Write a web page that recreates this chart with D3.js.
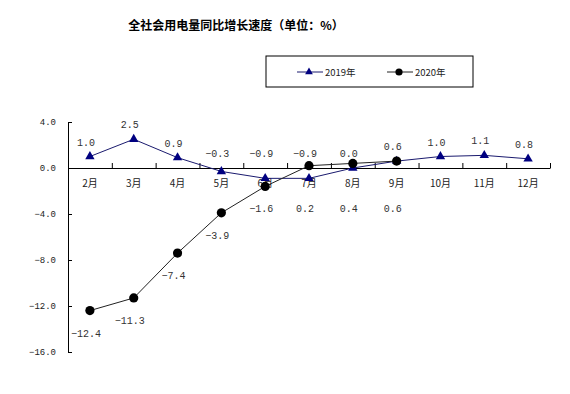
<!DOCTYPE html>
<html>
<head>
<meta charset="utf-8">
<script src="https://cdn.jsdelivr.net/npm/d3@7"></script>
<style>
  body { margin: 0; background: #fff; }
  .canvas svg { display: block; }
  text { fill: #222; }
</style>
</head>
<body>
<div class="canvas"></div>
<script>
// data
const months = ["2月", "3月", "4月", "5月", "6月", "7月", "8月", "9月", "10月", "11月", "12月"];
const v2019 = [1.0, 2.5, 0.9, -0.3, -0.9, -0.9, 0.0, 0.6, 1.0, 1.1, 0.8];
const v2020 = [-12.4, -11.3, -7.4, -3.9, -1.6, 0.2, 0.4, 0.6];
const yTicks = [4, 0, -4, -8, -12, -16];
const seriesNames = ["2019年", "2020年"];
const title = "全社会用电量同比增长速度（单位：%）";

const margin = { top: 122, right: 20, bottom: 42, left: 68 };
const graphWidth = 570 - margin.left - margin.right;
const graphHeight = 394 - margin.top - margin.bottom;

const svg = d3
  .select(".canvas")
  .append("svg")
  .attr("width", 570)
  .attr("height", 394);

// title
svg
  .append("text")
  .attr("x", 236)
  .attr("y", 30)
  .attr("text-anchor", "middle")
  .style("font-family", "'Noto Sans CJK SC', sans-serif")
  .style("font-weight", "bold")
  .style("font-size", "12px")
  .style("fill", "#000")
  .text(title);

const graph = svg
  .append("g")
  .attr("transform", `translate(${margin.left}, ${margin.top})`);

// scales
const x = d3.scaleBand().domain(months).range([0, graphWidth]);
const xEdge = d3.scaleLinear().domain([0, months.length]).range([0, graphWidth]);
const y = d3.scaleLinear().domain([-16, 4]).range([graphHeight, 0]);
const cx = (i) => x(months[i]) + x.bandwidth() / 2;

// y axis
const yAxisGroup = graph.append("g").attr("class", "y-axis");
yAxisGroup.call(
  d3.axisLeft(y)
    .tickValues(yTicks)
    .tickFormat(d3.format(".1f"))
    .tickSizeInner(-4)
    .tickSizeOuter(0)
    .tickPadding(12)
);
yAxisGroup.select(".domain").attr("stroke", "#000");
yAxisGroup.selectAll(".tick line").attr("stroke", "#000");
yAxisGroup
  .selectAll("text")
  .style("font-family", "'Liberation Mono', monospace")
  .style("font-size", "9px")
  .attr("fill", "#333");

// x axis at zero, ticks on band edges
const xAxisGroup = graph
  .append("g")
  .attr("class", "x-axis")
  .attr("transform", `translate(0, ${y(0)})`);
xAxisGroup.call(
  d3.axisBottom(xEdge)
    .tickValues(d3.range(months.length + 1))
    .tickFormat("")
    .tickSizeInner(-5)
    .tickSizeOuter(0)
);
xAxisGroup.select(".domain").attr("stroke", "#000");
xAxisGroup.selectAll(".tick line").attr("stroke", "#000");

// month labels
graph
  .append("g")
  .selectAll("text")
  .data(months)
  .enter()
  .append("text")
  .attr("x", (d) => x(d) + x.bandwidth() / 2)
  .attr("y", y(0) + 19)
  .attr("text-anchor", "middle")
  .style("font-family", "'Noto Sans CJK SC', sans-serif")
  .style("font-size", "10px")
  .text((d) => d);

// line generator
const line = d3
  .line()
  .x((d, i) => cx(i))
  .y((d) => y(d));

graph
  .append("path")
  .datum(v2019)
  .attr("fill", "none")
  .attr("stroke", "#1a1a6e")
  .attr("stroke-width", 1)
  .attr("d", line);

graph
  .append("path")
  .datum(v2020)
  .attr("fill", "none")
  .attr("stroke", "#222")
  .attr("stroke-width", 1)
  .attr("d", line);

// markers
const tri = d3.symbol().type(d3.symbolTriangle).size(38);
graph
  .selectAll(".m2019")
  .data(v2019)
  .enter()
  .append("path")
  .attr("class", "m2019")
  .attr("d", tri)
  .attr("transform", (d, i) => `translate(${cx(i)}, ${y(d)})`)
  .attr("fill", "#000080");

graph
  .selectAll(".m2020")
  .data(v2020)
  .enter()
  .append("circle")
  .attr("class", "m2020")
  .attr("r", 4.6)
  .attr("cx", (d, i) => cx(i))
  .attr("cy", (d) => y(d))
  .attr("fill", "#000");

// data labels
const fmt = d3.format(".1f");
graph
  .selectAll(".l2019")
  .data(v2019)
  .enter()
  .append("text")
  .attr("class", "l2019")
  .attr("x", (d, i) => cx(i) - 4)
  .attr("y", (d) => Math.min(y(d), y(0)) - 11)
  .attr("text-anchor", "middle")
  .style("font-family", "'Liberation Mono', monospace")
  .style("font-size", "10px")
  .style("fill", "#333")
  .text((d) => fmt(d));

graph
  .selectAll(".l2020")
  .data(v2020)
  .enter()
  .append("text")
  .attr("class", "l2020")
  .attr("x", (d, i) => cx(i) - 4)
  .attr("y", (d) => Math.max(y(d) + 22, y(0) + 40) + 4)
  .attr("text-anchor", "middle")
  .style("font-family", "'Liberation Mono', monospace")
  .style("font-size", "10px")
  .style("fill", "#333")
  .text((d) => fmt(d));

// legend
const legend = svg.append("g").attr("transform", "translate(266, 56)");
legend
  .append("rect")
  .attr("width", 207)
  .attr("height", 31)
  .attr("fill", "#fff")
  .attr("stroke", "#000")
  .attr("stroke-width", 1);

const items = legend
  .selectAll(".item")
  .data(seriesNames)
  .enter()
  .append("g")
  .attr("class", "item")
  .attr("transform", (d, i) => `translate(${31 + i * 90}, 16)`);

items
  .append("line")
  .attr("x1", 0)
  .attr("x2", 26)
  .attr("stroke", (d, i) => (i === 0 ? "#1a1a6e" : "#222"))
  .attr("stroke-width", 1);

items
  .filter((d, i) => i === 0)
  .append("path")
  .attr("d", d3.symbol().type(d3.symbolTriangle).size(26))
  .attr("transform", "translate(12, 0)")
  .attr("fill", "#000080");

items
  .filter((d, i) => i === 1)
  .append("circle")
  .attr("cx", 12)
  .attr("r", 3.6)
  .attr("fill", "#000");

items
  .append("text")
  .attr("x", 28)
  .attr("y", 4)
  .style("font-family", "'Noto Sans CJK SC', sans-serif")
  .style("font-size", "9.5px")
  .text((d) => d);
</script>
</body>
</html>
